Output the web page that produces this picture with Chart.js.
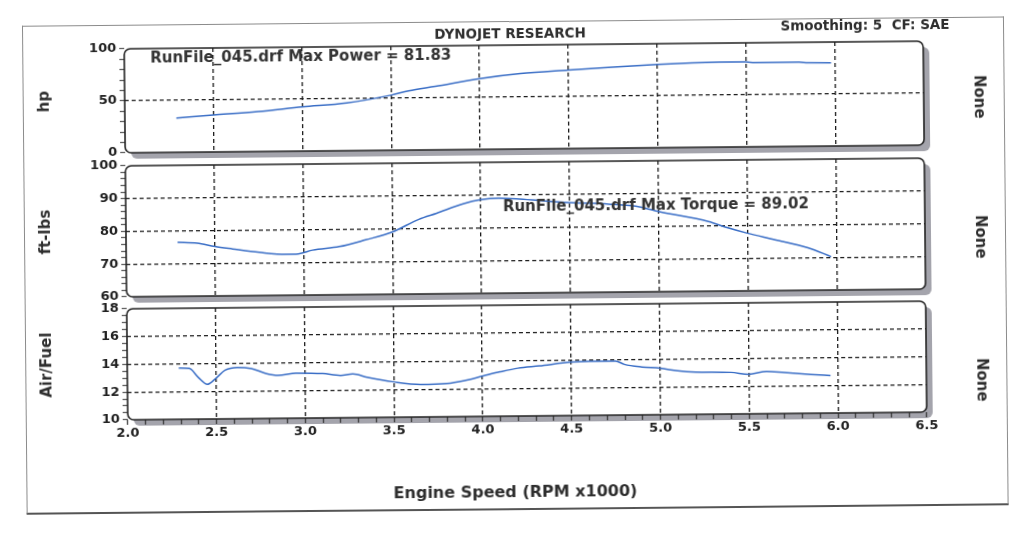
<!DOCTYPE html>
<html>
<head>
<meta charset="utf-8">
<script src="https://cdn.jsdelivr.net/npm/chart.js@4.4.1/dist/chart.umd.min.js"></script>
<style>
  html, body { margin: 0; padding: 0; background: #fff; }
  body { width: 1024px; height: 533px; overflow: hidden; position: relative; font-family: "DejaVu Sans", sans-serif; }
  #page { position: absolute; left: 0; top: 0; width: 1024px; height: 533px; transform: rotate(-0.55deg); transform-origin: 524px 234px; }
  #frame { position: absolute; left: 24px; top: 21px; width: 980px; height: 486px; border: 1px solid #8c8c8c; border-bottom: 2px solid #555; }
  canvas { position: absolute; left: 0; top: 0; }
  .txt { position: absolute; font-weight: bold; color: #2e2e2e; white-space: pre; transform: translate(-50%, -50%); }
  .none { font-size: 15px; transform: translate(-50%, -50%) rotate(90deg); }
</style>
</head>
<body>
<div id="page">
  <div id="frame"></div>
  <canvas id="chart-hp" width="1024" height="533"></canvas>
  <canvas id="chart-torque" width="1024" height="533"></canvas>
  <canvas id="chart-afr" width="1024" height="533"></canvas>
  <div class="txt" style="left:512px; top:33px; font-size:13.5px;">DYNOJET RESEARCH</div>
  <div class="txt" style="left:867px; top:28px; font-size:13.5px;">Smoothing: 5  CF: SAE</div>
  <div class="txt none" style="left:981px; top:101px;">None</div>
  <div class="txt none" style="left:981px; top:241px;">None</div>
  <div class="txt none" style="left:981px; top:384px;">None</div>
  <div class="txt" style="left:513px; top:491px; font-size:16px;">Engine Speed (RPM x1000)</div>
</div>
<script>
const hpRpm = [2.29, 2.5, 2.75, 3.0, 3.25, 3.5, 3.6, 3.75, 4.0, 4.23, 4.5, 4.75, 5.0, 5.2, 5.35, 5.5, 5.55, 5.8, 5.85, 5.98];
const hpValues = [33, 35.5, 38.5, 42.5, 46, 53, 57, 61, 68, 72.5, 75.5, 78, 80, 81.2, 81.7, 81.8, 80.9, 80.9, 80.2, 80.1];

const torqueRpm = [2.29, 2.4, 2.5, 2.6, 2.75, 2.9, 2.97, 3.05, 3.2, 3.35, 3.5, 3.65, 3.75, 3.9, 4.0, 4.1, 4.2, 4.35, 4.5, 4.72, 4.9, 4.95, 5.0, 5.28, 5.39, 5.5, 5.65, 5.84, 5.97];
const torqueValues = [76.5, 76.2, 75.1, 74.3, 73.2, 72.5, 72.6, 73.7, 74.7, 76.7, 79.0, 82.8, 84.6, 87.4, 88.6, 89.0, 88.8, 88.1, 87.5, 86.9, 85.9, 85.2, 84.5, 81.3, 79.3, 77.6, 75.6, 73.0, 70.2];

const afrRpm = [2.29, 2.35, 2.4, 2.45, 2.5, 2.55, 2.62, 2.7, 2.78, 2.85, 2.95, 3.1, 3.2, 3.27, 3.35, 3.5, 3.65, 3.8, 3.9, 4.0, 4.1, 4.2, 4.32, 4.5, 4.6, 4.75, 4.8, 4.9, 5.0, 5.1, 5.2, 5.4, 5.5, 5.6, 5.7, 5.85, 5.96];
const afrValues = [13.7, 13.65, 13.0, 12.5, 12.95, 13.5, 13.7, 13.6, 13.25, 13.1, 13.25, 13.2, 13.05, 13.15, 12.9, 12.55, 12.35, 12.4, 12.6, 12.9, 13.2, 13.45, 13.6, 13.85, 13.9, 13.9, 13.65, 13.45, 13.35, 13.15, 13.05, 13.0, 12.85, 13.05, 12.95, 12.8, 12.7];

const RPM_MIN = 2.0;
const RPM_MAX = 6.5;

const powerNote = { text: "RunFile_045.drf Max Power = 81.83", x: 2.146, y: 90.4 };
const torqueNote = { text: "RunFile_045.drf Max Torque = 89.02", x: 4.124, y: 86.2 };

const FONT = '"DejaVu Sans", sans-serif';
const PLOT_LEFT = 126;
const PLOT_RIGHT = 925;
const CLEAR = "rgba(0,0,0,0)";

Chart.defaults.font.family = FONT;

function roundRect(ctx, x, y, w, h, r) {
  ctx.beginPath();
  ctx.moveTo(x + r, y);
  ctx.arcTo(x + w, y, x + w, y + h, r);
  ctx.arcTo(x + w, y + h, x, y + h, r);
  ctx.arcTo(x, y + h, x, y, r);
  ctx.arcTo(x, y, x + w, y, r);
  ctx.closePath();
}

// rounded panel with a grey drop shadow, plus the "Max" note
const panelBox = {
  id: "panelBox",
  beforeDraw(chart) {
    const { ctx, chartArea: a } = chart;
    ctx.save();
    ctx.fillStyle = "#a4a4ac";
    roundRect(ctx, a.left + 6, a.top + 6, a.width, a.height, 6);
    ctx.fill();
    ctx.fillStyle = "#fff";
    roundRect(ctx, a.left, a.top, a.width, a.height, 6);
    ctx.fill();
    ctx.restore();
  },
  afterDraw(chart, args, opts) {
    const { ctx, chartArea: a } = chart;
    ctx.save();
    ctx.strokeStyle = "#222";
    ctx.lineWidth = 1.6;
    roundRect(ctx, a.left, a.top, a.width, a.height, 6);
    ctx.stroke();
    if (opts.note) {
      ctx.fillStyle = "#333";
      ctx.font = "bold 15px " + FONT;
      ctx.textAlign = "left";
      ctx.textBaseline = "middle";
      ctx.fillText(opts.note.text,
        chart.scales.x.getPixelForValue(opts.note.x),
        chart.scales.y.getPixelForValue(opts.note.y));
    }
    ctx.restore();
  },
};

function isHalfStep(v) {
  return Math.abs(v * 2 - Math.round(v * 2)) < 1e-6;
}

function buildPanel(canvasId, p) {
  const xAxisHeight = p.showX ? 26 : 0;
  const isMajorY = (v) => Math.abs(v / p.yMajor - Math.round(v / p.yMajor)) < 1e-6;

  return new Chart(document.getElementById(canvasId), {
    type: "line",
    data: {
      datasets: [
        {
          data: p.rpm.map((x, i) => ({ x, y: p.values[i] })),
          borderColor: "#3a6ec6",
          borderWidth: 1.5,
          pointRadius: 0,
          fill: false,
          tension: 0.3,
          cubicInterpolationMode: "monotone",
        },
      ],
    },
    options: {
      responsive: false,
      animation: false,
      layout: {
        padding: {
          left: 36,
          right: 1024 - PLOT_RIGHT,
          top: p.top,
          bottom: 533 - p.bottom - xAxisHeight,
        },
      },
      plugins: {
        legend: { display: false },
        tooltip: { enabled: false },
        panelBox: { note: p.note },
      },
      scales: {
        x: {
          type: "linear",
          min: RPM_MIN,
          max: RPM_MAX,
          afterFit: (s) => { s.height = xAxisHeight; },
          border: { display: false, dash: [4, 3] },
          grid: {
            color: (c) => {
              const v = c.tick.value;
              return v > RPM_MIN + 0.01 && v < RPM_MAX - 0.01 && isHalfStep(v) ? "#1a1a1a" : CLEAR;
            },
            tickColor: "#333",
            lineWidth: 1.3,
            tickWidth: 1.2,
            tickLength: 5,
            drawTicks: p.showX,
            tickBorderDash: [],
          },
          ticks: {
            display: p.showX,
            stepSize: p.showX ? 0.1 : 0.5,
            autoSkip: false,
            maxRotation: 0,
            padding: 1,
            color: "#222",
            font: { size: 13, weight: "bold" },
            callback: (v) => (isHalfStep(v) ? Number(v).toFixed(1) : ""),
          },
        },
        y: {
          min: p.yMin,
          max: p.yMax,
          afterFit: (s) => { s.width = PLOT_LEFT - 36; },
          border: { display: false, dash: [4, 3] },
          grid: {
            color: (c) => {
              const v = c.tick.value;
              return v > p.yMin && v < p.yMax && isMajorY(v) ? "#1a1a1a" : CLEAR;
            },
            tickColor: "#333",
            lineWidth: 1.3,
            tickWidth: 1,
            tickLength: 5,
            tickBorderDash: [],
          },
          ticks: {
            stepSize: p.yStep,
            autoSkip: false,
            padding: 3,
            color: "#222",
            font: { size: 13, weight: "bold" },
            callback: (v) => (isMajorY(v) ? String(v) : ""),
          },
          title: {
            display: true,
            text: p.title,
            color: "#2e2e2e",
            font: { size: 15, weight: "bold" },
            padding: { top: 1, bottom: 0 },
          },
        },
      },
    },
    plugins: [panelBox],
  });
}

buildPanel("chart-hp", {
  rpm: hpRpm, values: hpValues, title: "hp",
  yMin: 0, yMax: 100, yStep: 10, yMajor: 50,
  top: 45, bottom: 149, showX: false, note: powerNote,
});

buildPanel("chart-torque", {
  rpm: torqueRpm, values: torqueValues, title: "ft-lbs",
  yMin: 60, yMax: 100, yStep: 2, yMajor: 10,
  top: 162, bottom: 293, showX: false, note: torqueNote,
});

buildPanel("chart-afr", {
  rpm: afrRpm, values: afrValues, title: "Air/Fuel",
  yMin: 10, yMax: 18, yStep: 0.5, yMajor: 2,
  top: 305, bottom: 416, showX: true, note: null,
});
</script>
</body>
</html>
